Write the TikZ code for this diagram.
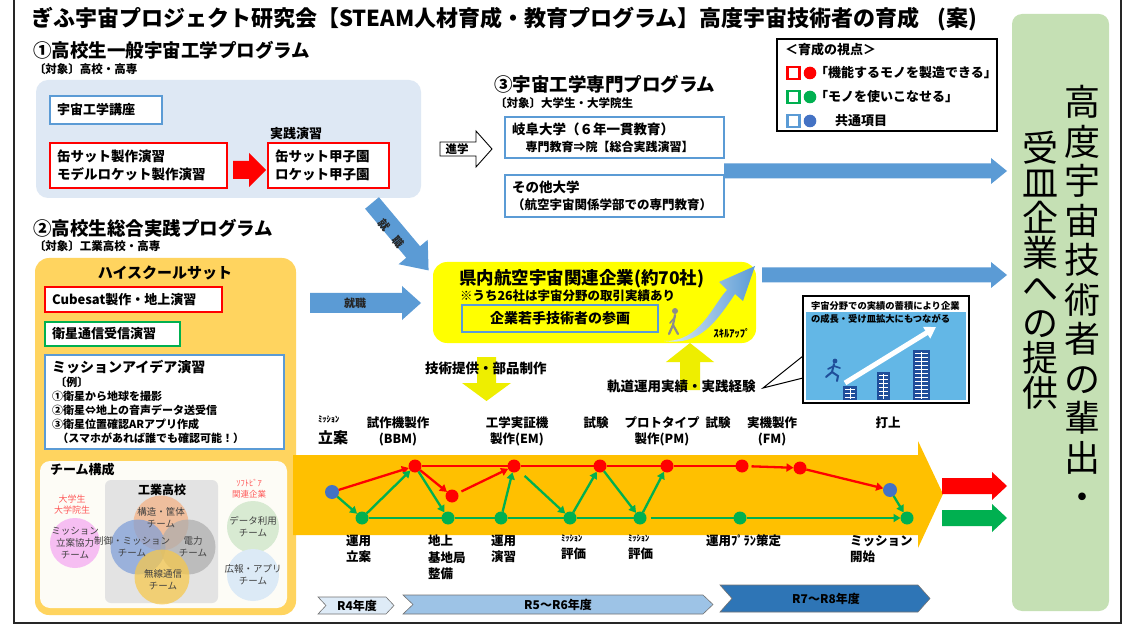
\documentclass[tikz,border=0pt]{standalone}
\usepackage{fontspec}
\setmainfont{Noto Sans CJK JP}
\usetikzlibrary{arrows.meta,calc}

\newcommand\fsz[2]{\fontsize{#1}{#2}\selectfont}

\definecolor{cblue}{HTML}{5B9BD5}
\definecolor{cred}{HTML}{FF0000}
\definecolor{cgreen}{HTML}{00B050}
\definecolor{cpanel}{HTML}{DEE8F4}
\definecolor{crgreen}{HTML}{C5E0B4}
\definecolor{cyel}{HTML}{FFFF00}
\definecolor{cyarrow}{HTML}{EEEE00}
\definecolor{cband}{HTML}{FFC000}
\definecolor{chs}{HTML}{FFD45F}
\definecolor{cteam}{HTML}{FDFCF6}
\definecolor{cnode}{HTML}{4472C4}
\definecolor{cr4}{HTML}{DEEBF7}
\definecolor{cr5}{HTML}{9DC3E6}
\definecolor{cr7}{HTML}{2E75B6}
\definecolor{csky}{HTML}{63B7E6}
\definecolor{cnavy}{HTML}{1F4E9A}
\definecolor{cpink}{HTML}{F6BEF2}
\definecolor{cpinktxt}{HTML}{FF5A5A}
\definecolor{cvorange}{HTML}{F4B183}
\definecolor{cvblue}{HTML}{7F9FD8}
\definecolor{cvgray}{HTML}{ADADAD}
\definecolor{cvyellow}{HTML}{F7C84A}
\definecolor{cdata}{HTML}{D8EAD2}
\definecolor{cpr}{HTML}{DCEAF6}
\definecolor{cvtxt}{HTML}{404040}

\tikzset{
  pics/blk/.style args={#1/#2/#3/#4}{code={
    \path[pic actions] (0,-#2) -- ({#1-#4},-#2) -- ({#1-#4},-#3) -- (#1,0)
      -- ({#1-#4},#3) -- ({#1-#4},#2) -- (0,#2) -- cycle;
  }},
  bx/.style={anchor=north west, line width=2.6pt, fill=white, inner xsep=7pt,
    inner ysep=0pt, align=left},
  tl/.style={line width=2.3pt},
  tipd/.style={-{Triangle[length=7pt,width=8pt]}},
  rdot/.style={circle, fill=cred, minimum size=13pt},
  gdot/.style={circle, fill=cgreen, minimum size=13pt},
  bdot/.style={circle, fill=cnode, minimum size=14pt},
  tlab/.style={font=\fsz{12.5}{16}\bfseries, align=center},
  blab/.style={font=\fsz{12.5}{16.5}\bfseries, align=left, anchor=north west},
  vtxt/.style={font=\fsz{9.5}{12}, text=cvtxt, align=center},
  yr/.style={draw=black!55, line width=0.6pt},
  diagch/.style={font=\fsz{11}{13}\bfseries, text=black!85, rotate=-50},
}

\begin{document}
\begin{tikzpicture}[x=1pt,y=-1pt, every node/.style={inner sep=0pt, outer sep=0pt}]
\useasboundingbox (0,0) rectangle (1135,628);
\fill[white] (0,0) rectangle (1135,628);
\draw[line width=1.2pt, black!85] (14,0) -- (14,623) -- (1121,623) -- (1121,0);

% title
\node[anchor=west, font=\fsz{22}{25}\bfseries] (title) at (31,19)
  {ぎふ宇宙プロジェクト研究会【STEAM人材育成・教育プログラム】高度宇宙技術者の育成\hspace{0.8em}(案)};

% ---------- program 1 ----------
\node[anchor=west, font=\fsz{18.5}{21}\bfseries] (h1) at (33,50) {①高校生一般宇宙工学プログラム};
\node[anchor=west, font=\fsz{11.5}{13}\bfseries] (h1s) at (34,69) {〔対象〕高校・高専};
\node[fill=cpanel, rounded corners=12pt, anchor=north west, minimum width=385pt, minimum height=118pt] (p1) at (36,80) {};
\node[bx, draw=cblue, text width=98pt, minimum height=28pt, font=\fsz{13}{15}\bfseries] (kouza) at (50,96) {宇宙工学講座};
\node[bx, draw=cred, text width=163pt, minimum height=45pt, font=\fsz{13.5}{18}\bfseries] (can) at (50,143) {缶サット製作演習\\モデルロケット製作演習};
\node[bx, draw=cred, text width=107pt, minimum height=45pt, font=\fsz{13.5}{18}\bfseries] (koshien) at (268,143) {缶サット甲子園\\ロケット甲子園};
\node[anchor=south west, font=\fsz{13}{15}\bfseries] (jissen) at (270,140) {実践演習};
\fill[cred] (233,161) -- (249,161) -- (249,153) -- (266,170) -- (249,187) -- (249,179) -- (233,179) -- cycle;

% ---------- legend ----------
\node[draw=black, line width=1.1pt, fill=white, anchor=north west, minimum width=220pt, minimum height=92pt] (leg) at (777,39) {};
\node[anchor=west, font=\fsz{13}{15}\bfseries] (legt) at (785,50) {＜育成の視点＞};
\draw[cred, line width=2.2pt] (787.5,67) rectangle (799.5,79);
\fill[cred] (810,73) circle (6.3);
\node[anchor=west, font=\fsz{13}{15}\bfseries] (leg1) at (815,73) {「機能するモノを製造できる」};
\draw[cgreen, line width=2.2pt] (787.5,91) rectangle (799.5,103);
\fill[cgreen] (810,97) circle (6.3);
\node[anchor=west, font=\fsz{13}{15}\bfseries] (leg2) at (815,97) {「モノを使いこなせる」};
\draw[cblue, line width=2.2pt] (787.5,115) rectangle (799.5,127);
\fill[cnode] (810,121) circle (6.3);
\node[anchor=west, font=\fsz{13}{15}\bfseries] (leg3) at (835,121) {共通項目};

% ---------- program 3 ----------
\node[anchor=west, font=\fsz{18.5}{21}\bfseries] (h3) at (494,84) {③宇宙工学専門プログラム};
\node[anchor=west, font=\fsz{11.5}{13}\bfseries] (h3s) at (495,103) {〔対象〕大学生・大学院生};
\node[bx, draw=cblue, text width=205pt, minimum height=41pt, font=\fsz{13.5}{17}\bfseries] (gifu) at (505,117)
  {岐阜大学（６年一貫教育）\\\hspace*{1em}{\fsz{12}{17}\bfseries 専門教育⇒院【総合実践演習】}};
\node[bx, draw=cblue, text width=205pt, minimum height=42pt, font=\fsz{13.5}{17}\bfseries] (other) at (505,175)
  {その他大学\\{\fsz{12.5}{17}\bfseries （航空宇宙関係学部での専門教育）}};

% advance arrow
\draw[black, line width=0.9pt, fill=white] (440,142) -- (476,142) -- (476,131) -- (492,149) -- (476,167) -- (476,156) -- (440,156) -- cycle;
\node[font=\fsz{11.5}{13}\bfseries] (shingaku) at (457,149) {進学};

% output arrows towards the right panel
\pic[fill=cblue] at (724,171) {blk={283/7.5/13/16}};
\pic[fill=cblue] at (762,275) {blk={245/7.5/13/16}};

% ---------- program 2 ----------
\node[anchor=west, font=\fsz{18.5}{21}\bfseries] (h2) at (33,228) {②高校生総合実践プログラム};
\node[anchor=west, font=\fsz{11.5}{13}\bfseries] (h2s) at (34,246) {〔対象〕工業高校・高専};
\node[fill=chs, rounded corners=14pt, anchor=north west, minimum width=261pt, minimum height=357pt] (p2) at (35,258) {};
\node[font=\fsz{15}{17}\bfseries] (hss) at (165,273) {ハイスクールサット};
\node[bx, draw=cred, text width=163pt, minimum height=25pt, font=\fsz{13}{15}\bfseries] (cube) at (45,287) {Cubesat製作・地上演習};
\node[bx, draw=cgreen, text width=121pt, minimum height=24pt, font=\fsz{13}{15}\bfseries] (tsushin) at (45,322) {衛星通信受信演習};
\node[bx, draw=cblue, text width=225pt, minimum height=94pt, font=\fsz{11}{14}\bfseries] (mission) at (45,355)
  {{\fsz{14}{17}\bfseries ミッションアイデア演習}\\\hspace*{0.3em}〔例〕\\①衛星から地球を撮影\\②衛星⇔地上の音声データ送受信\\③衛星位置確認ARアプリ作成\\\hspace*{0.5em}（スマホがあれば誰でも確認可能！）};

% team composition
\node[fill=cteam, rounded corners=10pt, anchor=north west, minimum width=247pt, minimum height=147pt] (team) at (40,461) {};
\node[anchor=west, font=\fsz{13}{15}\bfseries] (teamt) at (50,470) {チーム構成};
\node[fill=black!11, rounded corners=6pt, anchor=north west, minimum width=113pt, minimum height=123pt] (kogyo) at (105,480) {};
\node[font=\fsz{12}{14}\bfseries] (kogyot) at (162,490) {工業高校};
\fill[cpink] (75,543) circle (25);
\node[font=\fsz{9}{11}, text=cpinktxt, align=center] (univ) at (72,505) {大学生\\大学院生};
\node[vtxt] (tmis) at (75,543) {ミッション\\立案協力\\チーム};
\begin{scope}[opacity=0.72]
  \fill[cvorange] (161,523) circle (27.5);
  \fill[cvblue] (138,547) circle (27.5);
  \fill[cvgray] (188,547) circle (27.5);
  \fill[cvyellow] (162,577) circle (27.5);
\end{scope}
\node[vtxt] (tkozo) at (161,518) {構造・筐体\\チーム};
\node[vtxt] (tseigyo) at (132,547) {制御・ミッション\\チーム};
\node[vtxt] (tdenryoku) at (193,547) {電力\\チーム};
\node[vtxt] (tmusen) at (163,580) {無線通信\\チーム};
\node[font=\fsz{8.5}{11}, text=cpinktxt, align=center] (soft) at (249,489) {ｿﾌﾄﾋﾞｱ\\関連企業};
\fill[cdata] (253,527) circle (26);
\node[vtxt] (tdata) at (253,527) {データ利用\\チーム};
\fill[cpr] (253,575) circle (26);
\node[vtxt] (tpr) at (253,575) {広報・アプリ\\チーム};

% ---------- employment arrows ----------
\pic[fill=cblue] at (310,303) {blk={111/10/17/19}};
\node[font=\fsz{11}{13}\bfseries, text=black!85] (shushoku1) at (355,303) {就職};
\pic[fill=cblue, rotate=-50] at (372,203) {blk={88/9/19/24}};
\node[diagch] (shu) at (384,225) {就};
\node[diagch] (shoku) at (398,242) {職};

% ---------- companies ----------
\node[fill=cyel, rounded corners=14pt, anchor=north west, minimum width=323pt, minimum height=81pt] (comp) at (433,262) {};
\node[anchor=west, font=\fsz{17.5}{19}\bfseries] (compt) at (459,279) {県内航空宇宙関連企業(約70社)};
\node[anchor=west, font=\fsz{12.5}{14}\bfseries] (comps) at (460,296) {※うち26社は宇宙分野の取引実績あり};
\node[draw=cblue, line width=2.6pt, anchor=north west, minimum width=196pt, minimum height=27pt, font=\fsz{14}{16}\bfseries] (young) at (462,305) {企業若手技術者の参画};
% skill-up swoosh
\shade[left color=cblue!20, right color=cblue] (664,341) .. controls (700,342) and (712,306) .. (727,290)
  -- (719,282) -- (755,266) -- (743,301) -- (735,294) .. controls (716,322) and (700,346) .. (664,341) -- cycle;
\fill[black!45] (675,311) circle (3);
\draw[black!45, line width=2.2pt, line cap=round] (675,315) -- (673,325) -- (669,334);
\draw[black!45, line width=2.2pt, line cap=round] (673,325) -- (678,334);
\draw[black!45, line width=1.6pt, line cap=round] (675,317) -- (670,323);
\node[font=\fsz{10.5}{12}\bfseries\itshape] (skill) at (732,333) {ｽｷﾙｱｯﾌﾟ};

% support arrows
\fill[cyarrow] (477,357) -- (496,357) -- (496,383) -- (511,383) -- (486.5,401) -- (462,383) -- (477,383) -- cycle;
\node[anchor=west, font=\fsz{13.5}{15}\bfseries] (support) at (425,368) {技術提供・部品制作};
\fill[cyarrow] (680,390) -- (700,390) -- (700,362) -- (714,362) -- (690,343) -- (666,362) -- (680,362) -- cycle;
\node[anchor=west, font=\fsz{13.5}{15}\bfseries] (orbit) at (607,386) {軌道運用実績・実践経験};

% callout
\draw[black, line width=1pt] (803,356) -- (763,388) -- (803,378);
\node[draw=black, line width=1.2pt, fill=white, anchor=north west, minimum width=166pt, minimum height=107pt] (callout) at (803,296) {};
\fill[csky] (806,312) rectangle (966,400);
\node[anchor=west, font=\fsz{9.3}{11}\bfseries] (cl1) at (811,306) {宇宙分野での実績の蓄積により企業};
\node[anchor=west, font=\fsz{9.3}{11}\bfseries] (cl2) at (811,319) {の成長・受け皿拡大にもつながる};
\draw[white, line width=5pt, -{Triangle[length=11pt,width=13pt]}] (845,383) -- (936,327);
\foreach \xa/\xb/\yt in {843/857/386, 877/890/372, 913/930/350}{
  \fill[cnavy] (\xa,\yt) rectangle (\xb,400);
  \foreach \yy in {0,...,20}{
    \pgfmathsetmacro\yl{\yt+3+\yy*4}
    \ifdim\yl pt<398pt
      \draw[white, line width=0.5pt] (\xa+2,\yl) -- (\xb-2,\yl);
    \fi
  }
  \draw[white, line width=0.5pt] ({(\xa+\xb)/2},\yt+2) -- ({(\xa+\xb)/2},399);
}
\fill[cnavy] (835,361) circle (2.4);
\draw[cnavy, line width=2pt, line cap=round] (834,364) -- (832,372) -- (826,377);
\draw[cnavy, line width=2pt, line cap=round] (832,372) -- (838,376) -- (837,381);
\draw[cnavy, line width=1.6pt, line cap=round] (834,366) -- (840,368);
\draw[cnavy, line width=1.6pt, line cap=round] (834,366) -- (828,369);

% ---------- timeline ----------
\fill[cband] (293,455) -- (918,455) -- (918,441) -- (943,494) -- (918,548) -- (918,535) -- (293,535) -- cycle;

\node[anchor=west, font=\fsz{8.5}{9}\bfseries] (mL1) at (318,419) {ﾐｯｼｮﾝ};
\node[anchor=west, font=\fsz{15}{16}\bfseries] (mL2) at (318,438) {立案};
\node[tlab] (bbm) at (398,431) {試作機製作\\(BBM)};
\node[tlab] (em) at (517,431) {工学実証機\\製作(EM)};
\node[tlab] (test1) at (596,423) {試験};
\node[tlab] (pm) at (662,431) {プロトタイプ\\製作(PM)};
\node[tlab] (test2) at (718,423) {試験};
\node[tlab] (fm) at (772,431) {実機製作\\(FM)};
\node[tlab] (launch) at (888,423) {打上};

\node[bdot] (b1) at (332,492) {};
\node[gdot] (g1) at (362,518) {};
\node[rdot] (r1) at (415,466) {};
\node[rdot] (r2) at (452,496) {};
\node[gdot] (g2) at (448,518) {};
\node[gdot] (g3) at (501,518) {};
\node[rdot] (r3) at (514,466) {};
\node[gdot] (g4) at (570,518) {};
\node[rdot] (r4) at (600,466) {};
\node[gdot] (g5) at (640,518) {};
\node[rdot] (r5) at (667,466) {};
\node[rdot] (r6) at (742,466) {};
\node[gdot] (g6) at (740,518) {};
\node[rdot] (r7) at (800,468) {};
\node[bdot] (b2) at (890,490) {};
\node[gdot] (g7) at (907,518) {};

% red path: manufacturing
\draw[tl, cred, tipd] (b1) -- (r1);
\draw[tl, cred, tipd] (r1) -- (r2);
\draw[tl, cred, tipd, shorten <=4pt] (r2) -- (r3);
\draw[tl, cred] (r1) -- (r3) -- (r4) -- (r5) -- (r6);
\draw[tl, cred, tipd, shorten <=3pt] (r6) -- (r7);
\draw[tl, cred, tipd] (r7) -- (b2);
% green path: operation
\draw[tl, cgreen, tipd] (b1) -- (g1);
\draw[tl, cgreen, tipd] (g1) -- (r1);
\draw[tl, cgreen, tipd] (r1) -- (g2);
\draw[tl, cgreen, shorten <=4pt] (g1) -- (g2) -- (g3) -- (g4) -- (g5) -- (g6);
\draw[tl, cgreen, tipd] (g6) -- (g7);
\draw[tl, cgreen, tipd] (g3) -- (r3);
\draw[tl, cgreen, tipd, shorten <=8pt] (r3) -- (g4);
\draw[tl, cgreen, tipd] (g4) -- (r4);
\draw[tl, cgreen, tipd] (r4) -- (g5);
\draw[tl, cgreen, tipd] (g5) -- (r5);
\draw[tl, cgreen, tipd] (b2) -- (g7);

\node[blab] (u1) at (346,535) {運用\\立案};
\node[blab] (u2) at (428,535) {地上\\基地局\\整備};
\node[blab] (u3) at (491,535) {運用\\演習};
\node[blab] (u4) at (561,535) {{\fsz{8.5}{9}\bfseries ﾐｯｼｮﾝ}\\評価};
\node[blab] (u5) at (628,535) {{\fsz{8.5}{9}\bfseries ﾐｯｼｮﾝ}\\評価};
\node[blab] (u6) at (706,535) {運用ﾌﾟﾗﾝ策定};
\node[blab] (u7) at (850,535) {ミッション\\開始};

% year bands
\filldraw[yr, fill=cr4] (318,597) -- (386,597) -- (394,605.5) -- (386,614) -- (318,614) -- (326,605.5) -- cycle;
\node[font=\fsz{12}{14}\bfseries] (y4) at (357,605.5) {R4年度};
\filldraw[yr, fill=cr5] (403,595) -- (703,595) -- (713,604.5) -- (703,614) -- (403,614) -- (413,604.5) -- cycle;
\node[font=\fsz{12}{14}\bfseries] (y5) at (558,604.5) {R5～R6年度};
\filldraw[yr, fill=cr7] (720,585) -- (918,585) -- (930,598.5) -- (918,612) -- (720,612) -- (732,598.5) -- cycle;
\node[font=\fsz{12}{14}\bfseries] (y7) at (826,598.5) {R7～R8年度};

% red / green outputs
\pic[fill=cred] at (942,486) {blk={65/8/14/15}};
\pic[fill=cgreen] at (942,518) {blk={65/8/14/15}};

% ---------- right panel ----------
\node[fill=crgreen, rounded corners=10pt, anchor=north west, minimum width=97pt, minimum height=597pt] (out) at (1012,14) {};
\node[align=center, font=\fsz{36}{39.5}] (outa) at (1082,298) {高\\度\\宇\\宙\\技\\術\\者\\の\\輩\\出\\・};
\node[align=center, font=\fsz{36}{35}] (outb) at (1040,270) {受\\皿\\企\\業\\へ\\の\\提\\供};
\end{tikzpicture}
\end{document}
